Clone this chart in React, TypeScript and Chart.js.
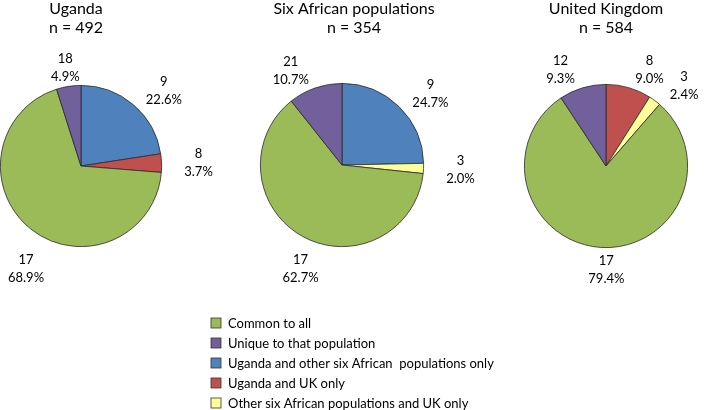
import React, { useEffect, useRef } from "react";
import { Chart, registerables } from "chart.js";

Chart.register(...registerables);

// ---- data ----
const CATEGORIES = [
  "Common to all",
  "Unique to that population",
  "Uganda and other six African  populations only",
  "Uganda and UK only",
  "Other six African populations and UK only",
];
const COLORS = ["#9BBB59", "#72609C", "#4F81BD", "#C0504D", "#FFFF99"];
// clockwise order of slices from 12 o'clock (category indices)
const SLICE_ORDER = [2, 3, 4, 0, 1];

const TITLES = ["Uganda", "Six African populations", "United Kingdom"];
const SAMPLE_N = [492, 354, 584];

const UGANDA_PCT = [68.9, 4.9, 22.6, 3.7, 0];
const UGANDA_CODE = [17, 18, 9, 8, 0];
const SIX_PCT = [62.7, 10.7, 24.7, 0, 2.0];
const SIX_CODE = [17, 21, 9, 0, 3];
const UK_PCT = [79.4, 9.3, 0, 9.0, 2.4];
const UK_CODE = [17, 12, 0, 8, 3];

const SERIES_PCT = [UGANDA_PCT, SIX_PCT, UK_PCT];
const SERIES_CODE = [UGANDA_CODE, SIX_CODE, UK_CODE];

// ---- layout ----
const W = 709;
const H = 410;
const PANELS = [
  { cx: 81, cy: 166, r: 81, titleX: 76 },
  { cx: 342, cy: 165, r: 82, titleX: 354 },
  { cx: 606, cy: 166, r: 82, titleX: 606 },
];
const TITLE_BASE = [14, 33];
const LABEL_GAP = 19;
const LABEL_PUSH_X = 18;
const LABEL_LOW_PULL_X = 7;
const LABEL_LOW_MIN_Y = 22;
const LABEL_LINE = 18;
const LEGEND = { x: 211, y0: 323, dy: 20, box: 10, textX: 228 };
const FONT = "Lato, 'Open Sans', sans-serif";

function PieCanvas({ idx }: { idx: number }) {
  const ref = useRef<HTMLCanvasElement | null>(null);
  useEffect(() => {
    if (!ref.current) return;
    const pct = SERIES_PCT[idx];
    const codes = SERIES_CODE[idx];
    const slices = SLICE_ORDER.filter((i) => pct[i] > 0);
    const p = PANELS[idx];

    const labelPlugin = {
      id: "outLabels" + idx,
      afterDatasetsDraw(chart: any) {
        const ctx = chart.ctx;
        const meta = chart.getDatasetMeta(0);
        ctx.save();
        ctx.fillStyle = "#000";
        ctx.textAlign = "center";
        ctx.textBaseline = "alphabetic";
        ctx.font = `13px ${FONT}`;
        meta.data.forEach((arc: any, j: number) => {
          const { startAngle, endAngle, outerRadius, x, y } = arc.getProps(
            ["startAngle", "endAngle", "outerRadius", "x", "y"],
            true
          );
          const mid = (startAngle + endAngle) / 2;
          const dx = Math.cos(mid);
          const dy = Math.sin(mid);
          const d = outerRadius + LABEL_GAP;
          let lx = x + dx * d;
          let ly = y + dy * d;
          const sx = Math.sign(dx);
          if (dy < 0.3) {
            const k = Math.min(1, Math.max(0, (Math.abs(dx) - 0.15) / 0.15));
            lx += sx * LABEL_PUSH_X * k;
          } else {
            lx -= sx * LABEL_LOW_PULL_X;
            ly = Math.max(ly, y + outerRadius + LABEL_LOW_MIN_Y);
          }
          const cat = slices[j];
          ctx.fillText(String(codes[cat]), lx, ly - LABEL_LINE / 2 + 4.5);
          ctx.fillText(pct[cat].toFixed(1) + "%", lx, ly + LABEL_LINE / 2 + 4.5);
        });
        // titles
        ctx.font = `16px ${FONT}`;
        ctx.fillText(TITLES[idx], p.titleX, TITLE_BASE[0]);
        ctx.fillText("n = " + SAMPLE_N[idx], p.titleX, TITLE_BASE[1]);
        // legend (drawn once)
        if (idx === 0) {
          ctx.textAlign = "left";
          ctx.font = `13px ${FONT}`;
          CATEGORIES.forEach((c, k) => {
            const yy = LEGEND.y0 + k * LEGEND.dy;
            ctx.fillStyle = COLORS[k];
            ctx.fillRect(LEGEND.x, yy - LEGEND.box / 2, LEGEND.box, LEGEND.box);
            ctx.strokeStyle = "#333";
            ctx.lineWidth = 0.8;
            ctx.strokeRect(LEGEND.x, yy - LEGEND.box / 2, LEGEND.box, LEGEND.box);
            ctx.fillStyle = "#000";
            ctx.fillText(c, LEGEND.textX, yy + 4.5);
          });
        }
        ctx.restore();
      },
    };

    const chart = new Chart(ref.current, {
      type: "pie",
      data: {
        labels: slices.map((i) => CATEGORIES[i]),
        datasets: [
          {
            data: slices.map((i) => pct[i]),
            backgroundColor: slices.map((i) => COLORS[i]),
            borderColor: "#2a2a2a",
            borderWidth: 0.8,
          },
        ],
      },
      options: {
        responsive: false,
        animation: false,
        devicePixelRatio: 1,
        layout: {
          padding: {
            left: p.cx - p.r,
            right: W - (p.cx + p.r),
            top: p.cy - p.r,
            bottom: H - (p.cy + p.r),
          },
        },
        plugins: {
          legend: { display: false },
          tooltip: { enabled: false },
          title: { display: false },
        },
      },
      plugins: [labelPlugin],
    });
    return () => chart.destroy();
  }, [idx]);
  return (
    <canvas
      ref={ref}
      width={W}
      height={H}
      style={{ position: "absolute", left: 0, top: 0, width: W, height: H, pointerEvents: "none" }}
    />
  );
}

export default function App() {
  return (
    <div style={{ position: "absolute", left: 0, top: 0, width: W, height: H, background: "#fff" }}>
      <PieCanvas idx={0} />
      <PieCanvas idx={1} />
      <PieCanvas idx={2} />
    </div>
  );
}
